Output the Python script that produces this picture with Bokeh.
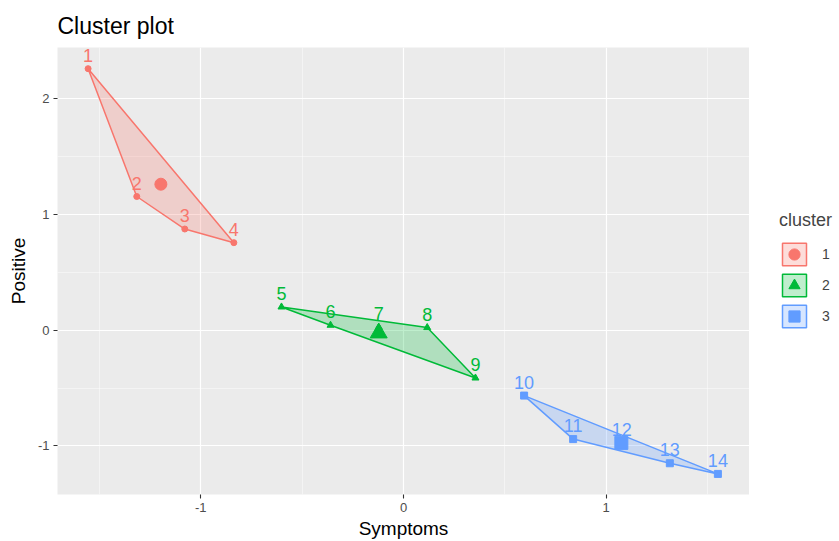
from bokeh.plotting import figure
from bokeh.layouts import row
from bokeh.models import ColumnDataSource, FixedTicker, Legend, LegendItem, Range1d
from bokeh.core.properties import value
from bokeh.embed import file_html
from bokeh.resources import INLINE

# ---- data ----
labels = ["1", "2", "3", "4", "5", "6", "7", "8", "9", "10", "11", "12", "13", "14"]
cluster = [1, 1, 1, 1, 2, 2, 2, 2, 2, 3, 3, 3, 3, 3]
symptoms = [-1.556, -1.316, -1.079, -0.837,
            -0.602, -0.360, -0.122, 0.117, 0.355,
            0.595, 0.837, 1.077, 1.314, 1.551]
positive = [2.261, 1.156, 0.875, 0.757,
            0.201, 0.043, 0.026, 0.023, -0.413,
            -0.565, -0.941, -0.972, -1.150, -1.242]
cluster_names = ["1", "2", "3"]
colors = ["#F8766D", "#00BA38", "#619CFF"]
markers = ["circle", "triangle", "square"]
x_ticks = [-1, 0, 1]
x_minor = [-1.5, -0.5, 0.5, 1.5]
y_ticks = [-1, 0, 1, 2]
y_minor = [-0.5, 0.5, 1.5]

FONT = "Liberation Sans"


def convex_hull(pts):
    pts = sorted(set(pts))
    if len(pts) <= 2:
        return pts

    def cross(o, a, b):
        return (a[0] - o[0]) * (b[1] - o[1]) - (a[1] - o[1]) * (b[0] - o[0])

    lower = []
    for p in pts:
        while len(lower) >= 2 and cross(lower[-2], lower[-1], p) <= 0:
            lower.pop()
        lower.append(p)
    upper = []
    for p in reversed(pts):
        while len(upper) >= 2 and cross(upper[-2], upper[-1], p) <= 0:
            upper.pop()
        upper.append(p)
    return lower[:-1] + upper[:-1]


x_rng = Range1d(-1.707, 1.707)
y_rng = Range1d(-1.42, 2.444)

p = figure(width=749, height=541, output_backend="svg", toolbar_location=None,
           x_range=x_rng, y_range=y_rng,
           min_border_left=57, min_border_right=0, min_border_top=47, min_border_bottom=45,
           title="Cluster plot")
p.background_fill_color = "#EBEBEB"
p.border_fill_color = "white"
p.outline_line_color = None

p.title.text_font = FONT
p.title.text_font_size = "23px"
p.title.text_font_style = "normal"
p.title.text_color = "black"
p.title.align = "left"
p.title.standoff = 17

p.xaxis.ticker = FixedTicker(ticks=x_ticks, minor_ticks=x_minor)
p.yaxis.ticker = FixedTicker(ticks=y_ticks, minor_ticks=y_minor)
p.xaxis.major_label_overrides = {t: str(t) for t in x_ticks}
p.yaxis.major_label_overrides = {t: str(t) for t in y_ticks}
for ax in (p.xaxis, p.yaxis):
    ax.axis_line_color = None
    ax.major_tick_line_color = "#333333"
    ax.major_tick_line_width = 1.1
    ax.major_tick_out = 4
    ax.major_tick_in = 0
    ax.minor_tick_line_color = None
    ax.major_label_text_font = FONT
    ax.major_label_text_font_size = "13px"
    ax.major_label_text_color = "#4D4D4D"
    ax.axis_label_text_font = FONT
    ax.axis_label_text_font_size = "19px"
    ax.axis_label_text_font_style = "normal"
    ax.axis_label_text_color = "black"
p.xaxis.axis_label = "Symptoms"
p.yaxis.axis_label = "Positive"
p.xaxis.major_label_standoff = 4
p.yaxis.major_label_standoff = 4
p.xaxis.axis_label_standoff = 3
p.yaxis.axis_label_standoff = 6

for g in (p.xgrid, p.ygrid):
    g.grid_line_color = "white"
    g.grid_line_width = 1.2
    g.minor_grid_line_color = "white"
    g.minor_grid_line_alpha = 0.55
    g.minor_grid_line_width = 0.8

# legend-only panel to the right of the plot
lg = figure(width=90, height=541, output_backend="svg", toolbar_location=None,
            x_range=x_rng, y_range=y_rng, x_axis_location=None, y_axis_location=None,
            min_border=0)
lg.grid.visible = False
lg.outline_line_color = None
lg.background_fill_color = "white"
lg.border_fill_color = "white"

legend_items = []
for ci, name in enumerate(cluster_names):
    cid = ci + 1
    xs = [x for x, c in zip(symptoms, cluster) if c == cid]
    ys = [y for y, c in zip(positive, cluster) if c == cid]
    labs = [l for l, c in zip(labels, cluster) if c == cid]
    col = colors[ci]
    hx = [h[0] for h in convex_hull(list(zip(xs, ys)))]
    hy = [h[1] for h in convex_hull(list(zip(xs, ys)))]
    p.patch(hx, hy, fill_color=col, fill_alpha=0.25, line_color=col, line_width=1.5)
    src = ColumnDataSource(dict(x=xs, y=ys, lab=labs))
    p.scatter("x", "y", source=src, marker=markers[ci], size=7 if ci else 6,
              fill_color=col, line_color=col)
    p.text("x", "y", text="lab", source=src, text_color=col, text_font=value(FONT),
           text_font_size="18px", text_align="center", text_baseline="bottom",
           y_offset=-7)
    cx = sum(xs) / len(xs)
    cy = sum(ys) / len(ys)
    big = {0: 12, 1: 17, 2: 13}[ci]
    p.scatter([cx], [cy], marker=markers[ci], size=big, fill_color=col, line_color=col)

    # same glyphs in the legend panel (hidden; only their legend keys are drawn)
    kh = lg.patch(hx, hy, fill_color=col, fill_alpha=0.25, line_color=col, line_width=1.5,
                  visible=False)
    kc = lg.scatter([cx], [cy], marker=markers[ci], size=big, fill_color=col,
                    line_color=col, visible=False)
    legend_items.append(LegendItem(label=name, renderers=[kh, kc]))

legend = Legend(items=legend_items, title="cluster", location=(30, 164),
                orientation="vertical")
legend.title_text_font = FONT
legend.title_text_font_size = "18px"
legend.title_text_font_style = "normal"
legend.title_standoff = 9
legend.label_text_font = FONT
legend.label_text_font_size = "14px"
legend.glyph_width = 30
legend.glyph_height = 28
legend.spacing = 3
legend.label_standoff = 13
legend.padding = 0
legend.margin = 0
legend.border_line_color = None
legend.background_fill_alpha = 0
lg.add_layout(legend)

layout = row(p, lg, spacing=0)
open("out.html", "w").write(file_html(layout, INLINE))
